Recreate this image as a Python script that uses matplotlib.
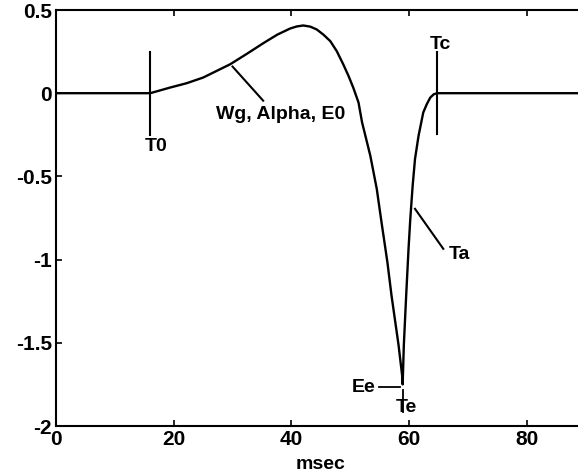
import matplotlib
matplotlib.use("Agg")
import matplotlib.pyplot as plt

# glottal flow derivative (msec, amplitude)
t_ms = [0, 16.0, 19.4, 22.2, 25.0, 29.6, 32.4, 35.2, 37.6, 39.8, 40.9, 42.0, 43.2,
        44.3, 45.4, 46.6, 47.7, 48.8, 49.7, 50.5, 51.4, 52.0, 53.4, 54.5, 55.3,
        56.3, 57.0, 58.2, 58.8, 58.9,
        59.1, 59.5, 59.9, 60.2, 60.6, 61.0, 61.6, 62.4, 63.0, 63.6, 64.2, 64.8, 90]
amp = [0, 0, 0.034, 0.06, 0.094, 0.174, 0.236, 0.3, 0.352, 0.389, 0.401, 0.407, 0.400,
       0.383, 0.353, 0.313, 0.253, 0.174, 0.104, 0.034, -0.056, -0.175, -0.375, -0.575, -0.774,
       -1.014, -1.214, -1.513, -1.693, -1.75,
       -1.513, -1.214, -0.934, -0.754, -0.555, -0.395, -0.256, -0.116, -0.066, -0.026, -0.006, 0, 0]

T0 = 16.0
Tc = 64.8
Te = 58.9
Ee = -1.75

xticks = [0, 20, 40, 60, 80]
yticks = [-2, -1.5, -1, -0.5, 0, 0.5]
ytick_labels = ["-2", "-1.5", "-1", "-0.5", "0", "0.5"]

plt.rcParams["font.family"] = ["Liberation Sans", "DejaVu Sans"]
plt.rcParams["font.weight"] = "bold"

fig = plt.figure(figsize=(5.78, 4.76), dpi=100)
ax = fig.add_axes([56 / 578, 1 - 426 / 476, (585.7 - 56) / 578, 416 / 476])

ax.plot(t_ms, amp, color="black", lw=1.7)

# marker lines
ax.plot([T0, T0], [-0.25, 0.25], color="black", lw=1.5)
ax.plot([Tc, Tc], [-0.245, 0.245], color="black", lw=1.5)
ax.plot([Te, Te], [-1.785, -1.915], color="black", lw=1.3)
ax.plot([54.9, 58.5], [-1.763, -1.763], color="black", lw=1.3)
ax.plot([30.0, 35.2], [0.16, -0.045], color="black", lw=1.5)
ax.plot([61.0, 65.8], [-0.695, -0.935], color="black", lw=1.5)

kw = dict(fontsize=14, fontweight="bold", color="black")
ax.text(17.0, -0.32, "T0", ha="center", va="center", **kw)
ax.text(65.4, 0.29, "Tc", ha="center", va="center", **kw)
ax.text(38.1, -0.13, "Wg, Alpha, E0", ha="center", va="center", **kw)
ax.text(66.8, -0.97, "Ta", ha="left", va="center", **kw)
ax.text(54.3, -1.77, "Ee", ha="right", va="center", **kw)
ax.text(57.7, -1.89, "Te", ha="left", va="center", **kw)

ax.set_xlim(0, 90)
ax.set_ylim(-2, 0.5)
ax.set_xticks(xticks)
ax.set_yticks(yticks)
ax.set_yticklabels(ytick_labels)
ax.tick_params(direction="in", length=4, width=1.2, labelsize=15, top=True, right=True, pad=3)
for lab in ax.get_xticklabels() + ax.get_yticklabels():
    lab.set_fontweight("bold")
for s in ax.spines.values():
    s.set_linewidth(1.5)
ax.set_xlabel("msec", fontsize=14, fontweight="bold", labelpad=5)

fig.savefig("out.png", dpi=100)
